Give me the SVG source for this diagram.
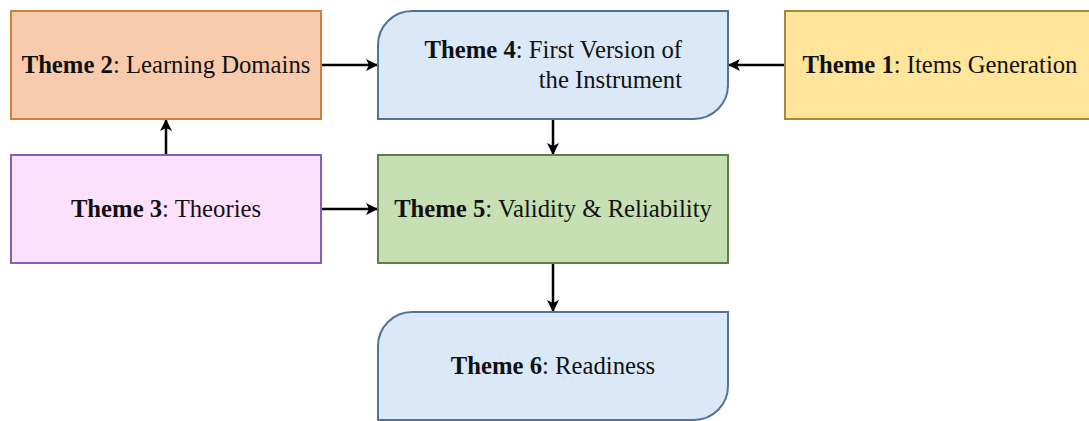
<svg xmlns="http://www.w3.org/2000/svg" width="1089" height="421" viewBox="0 0 1089 421">
<style>
text{font-family:"Liberation Serif","Times New Roman",serif;font-size:24.7px;fill:#111}
.b{font-weight:bold}
.c{stroke:#000;stroke-width:2.5;fill:none;marker-end:url(#ah)}
</style>
<defs>
<marker id="ah" viewBox="0 0 12 12" refX="11" refY="6" markerWidth="12" markerHeight="12" markerUnits="userSpaceOnUse" orient="auto">
<path d="M0,0 L12,6 L0,12 L3,6 Z" fill="#000"/>
</marker>
</defs>
<rect width="1089" height="421" fill="#fff"/>
<g id="connectors">
<path class="c" d="M321,65 H377"/>
<path class="c" d="M785,65 H729"/>
<path class="c" d="M553,119 V154"/>
<path class="c" d="M166,155 V120"/>
<path class="c" d="M321,209 H377"/>
<path class="c" d="M553,263 V311"/>
</g>
<g id="theme2">
<rect x="11" y="11" width="310" height="108" fill="#f8cbad" stroke="#d07f3c" stroke-width="2"/>
<text x="166" y="73" text-anchor="middle"><tspan class="b">Theme 2</tspan>: Learning Domains</text>
</g>
<g id="theme4">
<path d="M412,11 H728 V85 A34,34 0 0 1 694,119 H378 V45 A34,34 0 0 1 412,11 Z" fill="#dae8f8" stroke="#52729a" stroke-width="2"/>
<text x="682" y="58" text-anchor="end"><tspan class="b">Theme 4</tspan>: First Version of</text>
<text x="682" y="88" text-anchor="end">the Instrument</text>
</g>
<g id="theme1">
<rect x="785" y="11" width="310" height="108" fill="#ffe599" stroke="#a08c38" stroke-width="2"/>
<text x="940" y="73" text-anchor="middle"><tspan class="b">Theme 1</tspan>: Items Generation</text>
</g>
<g id="theme3">
<rect x="11" y="155" width="310" height="108" fill="#fde0fc" stroke="#8560b4" stroke-width="2"/>
<text x="166" y="217" text-anchor="middle"><tspan class="b">Theme 3</tspan>: Theories</text>
</g>
<g id="theme5">
<rect x="378" y="155" width="350" height="108" fill="#c6e0b4" stroke="#5f7f48" stroke-width="2"/>
<text x="553" y="217" text-anchor="middle"><tspan class="b">Theme 5</tspan>: Validity &amp; Reliability</text>
</g>
<g id="theme6">
<path d="M412,312 H728 V386 A34,34 0 0 1 694,420 H378 V346 A34,34 0 0 1 412,312 Z" fill="#dae8f8" stroke="#52729a" stroke-width="2"/>
<text x="553" y="374" text-anchor="middle"><tspan class="b">Theme 6</tspan>: Readiness</text>
</g>
</svg>
